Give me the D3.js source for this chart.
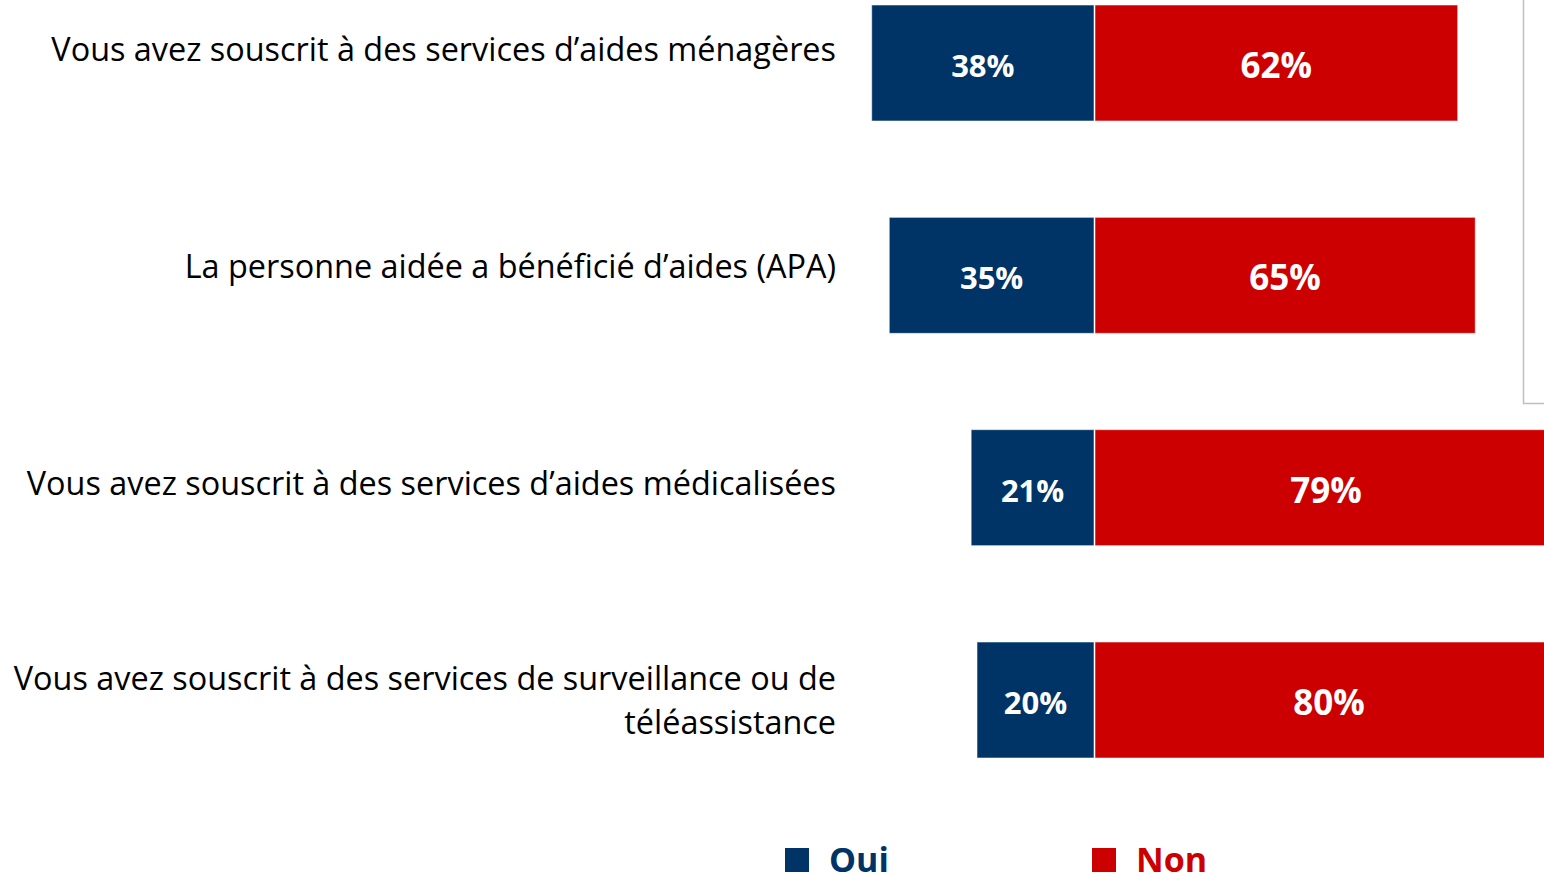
<!DOCTYPE html>
<html>
<head>
<meta charset="utf-8">
<script src="https://cdn.jsdelivr.net/npm/d3@7"></script>
<style>
  html, body { margin: 0; padding: 0; background: #fff; }
  svg { display: block; }
</style>
</head>
<body>
<svg id="chart" width="1544" height="876"></svg>
<script>
// Data
const categories = [
    ["Vous avez souscrit à des services d’aides ménagères"],
    ["La personne aidée a bénéficié d’aides (APA)"],
    ["Vous avez souscrit à des services d’aides médicalisées"],
    ["Vous avez souscrit à des services de surveillance ou de", "téléassistance"]
];
const oui = [38, 35, 21, 20];
const non = [62, 65, 79, 80];
const series = ["Oui", "Non"];
const colors = ["#003366", "#CC0000"];

const svg = d3.select("#chart");
const font = "'Open Sans', 'Noto Sans', sans-serif";

const cx = 1094;   // where Oui meets Non
const x = d3.scaleLinear().domain([0, 100]).range([0, 585]);
const y = d3.scaleBand().domain(d3.range(categories.length)).range([5, 758]).paddingInner(0.4537);
// labels sit on a slightly different rhythm than the bars
const yLabel = d3.scalePoint().domain(d3.range(categories.length)).range([61, 712]);

const rows = categories.map((c, i) => ({ i, label: c, oui: oui[i], non: non[i] }));

// box edge on the right
svg.append("path")
    .attr("d", "M1523.5,0V403.5H1544")
    .attr("fill", "none")
    .attr("stroke", "#bfbfbf")
    .attr("stroke-width", 1.5);

const g = svg.selectAll(".row").data(rows).enter().append("g").attr("class", "row");

// Oui bars (to the left)
g.append("rect")
    .attr("x", d => cx - x(d.oui))
    .attr("y", d => y(d.i))
    .attr("width", d => x(d.oui))
    .attr("height", y.bandwidth())
    .attr("fill", colors[0])
    .attr("stroke", "#fff").attr("stroke-opacity", 0.55).attr("stroke-width", 1);

// Non bars (to the right)
g.append("rect")
    .attr("x", cx + 1)
    .attr("y", d => y(d.i))
    .attr("width", d => x(d.non))
    .attr("height", y.bandwidth())
    .attr("fill", colors[1])
    .attr("stroke", "#fff").attr("stroke-opacity", 0.55).attr("stroke-width", 1);

// values
g.append("text")
    .attr("x", d => cx - x(d.oui) / 2)
    .attr("y", d => y(d.i) + y.bandwidth() / 2 + 14)
    .attr("text-anchor", "middle")
    .style("font-family", font).style("font-weight", 700).style("font-size", "31px")
    .attr("fill", "#fff")
    .text(d => d.oui + "%");

g.append("text")
    .attr("x", d => cx + 1 + x(d.non) / 2)
    .attr("y", d => y(d.i) + y.bandwidth() / 2 + 15)
    .attr("text-anchor", "middle")
    .style("font-family", font).style("font-weight", 700).style("font-size", "35px")
    .attr("fill", "#fff")
    .text(d => d.non + "%");

// category labels
const lineH = 44;
g.append("text")
    .attr("text-anchor", "end")
    .style("font-family", font).style("font-size", "32.4px")
    .attr("fill", "#000")
    .each(function (d) {
        const n = d.label.length;
        d3.select(this).selectAll("tspan").data(d.label).enter().append("tspan")
            .attr("x", 836)
            .attr("y", (t, k) => yLabel(d.i) + (k - (n - 1) / 2) * lineH)
            .text(t => t);
    });

// legend
const legendX = [785, 1092];
const lg = svg.selectAll(".legend").data(series).enter().append("g").attr("class", "legend")
    .attr("transform", (d, i) => `translate(${legendX[i]},848)`);
lg.append("rect").attr("width", 24).attr("height", 24).attr("fill", (d, i) => colors[i]);
lg.append("text")
    .attr("x", 44).attr("y", 24)
    .style("font-family", font).style("font-weight", 700).style("font-size", "34px")
    .attr("fill", (d, i) => colors[i])
    .text(d => d);
</script>
</body>
</html>
